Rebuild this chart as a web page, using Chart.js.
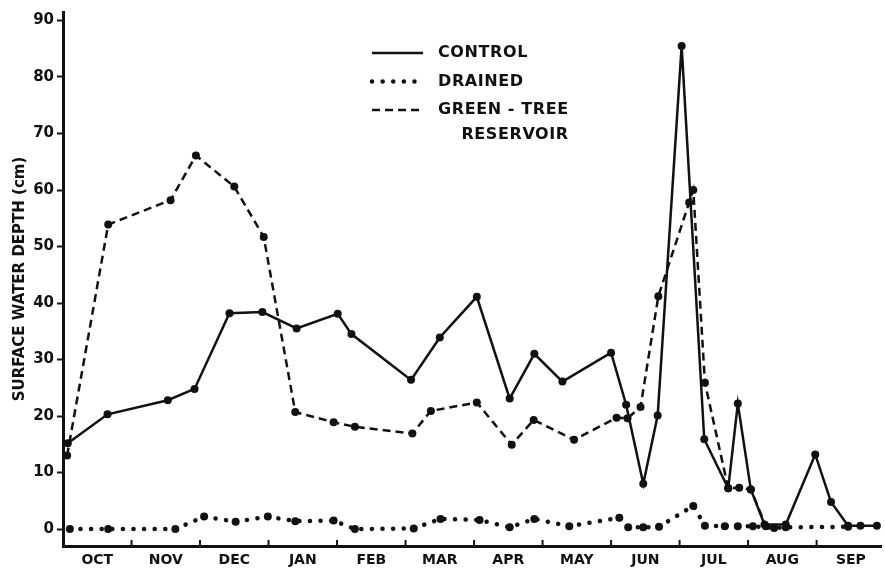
<!DOCTYPE html>
<html>
<head>
<meta charset="utf-8">
<title>Surface water depth</title>
<script src="https://cdn.jsdelivr.net/npm/chart.js@4.4.1/dist/chart.umd.min.js"></script>
<style>
  html, body { margin: 0; padding: 0; background: #fff; }
</style>
</head>
<body>
<canvas id="chartWater" width="885" height="569"></canvas>
<script>
// --- DATA (x = months since 1 October) ---
const MONTHS = ["OCT", "NOV", "DEC", "JAN", "FEB", "MAR", "APR", "MAY", "JUN", "JUL", "AUG", "SEP"];
const DEPTH_TICKS = [0, 10, 20, 30, 40, 50, 60, 70, 80, 90];

const controlX = [0.07, 0.65, 1.53, 1.92, 2.43, 2.91, 3.41, 4.01, 4.21, 5.08, 5.50, 6.04, 6.52, 6.88, 7.29, 8.00,
    8.22, 8.47, 8.68, 9.03, 9.36, 9.71, 9.85, 10.04, 10.24, 10.55, 10.98, 11.21, 11.46, 11.64, 11.88];
const controlDepth = [15.2, 20.3, 22.8, 24.8, 38.2, 38.4, 35.5, 38.1, 34.5, 26.4, 33.9, 41.1, 23.1, 31.0, 26.1, 31.2,
    22.0, 8.0, 20.1, 85.5, 15.9, 7.2, 22.2, 7.0, 0.8, 0.8, 13.2, 4.8, 0.6, 0.6, 0.6];

const drainedX = [0.10, 0.66, 1.64, 2.06, 2.52, 2.99, 3.39, 3.95, 4.26, 5.12, 5.51, 6.08, 6.52, 6.88, 7.39, 8.12,
    8.25, 8.47, 8.70, 9.20, 9.37, 9.66, 9.85, 10.07, 10.38, 10.55, 11.46];
const drainedDepth = [0, 0, 0, 2.2, 1.3, 2.2, 1.4, 1.5, 0, 0.1, 1.8, 1.6, 0.3, 1.8, 0.5, 2.0,
    0.3, 0.3, 0.4, 4.1, 0.6, 0.5, 0.5, 0.5, 0.2, 0.3, 0.4];

const reservoirX = [0.06, 0.66, 1.57, 1.94, 2.50, 2.93, 3.39, 3.95, 4.26, 5.10, 5.37, 6.04, 6.55, 6.87, 7.46, 8.08,
    8.24, 8.43, 8.69, 9.14, 9.20, 9.37, 9.71, 9.87, 10.04, 10.26];
const reservoirDepth = [13.0, 53.9, 58.2, 66.1, 60.6, 51.7, 20.7, 18.9, 18.1, 16.9, 20.9, 22.4, 14.9, 19.3, 15.8, 19.7,
    19.6, 21.6, 41.2, 57.8, 60.0, 25.9, 7.2, 7.3, 7.0, 0.5];

const INK = "#111";
const FONT = "'DejaVu Sans', 'Liberation Sans', sans-serif";

function toPoints(xs, ys) {
    return xs.map((x, i) => ({ x: x, y: ys[i] }));
}

// --- SMALL TICKS BETWEEN MONTHS (pointing up, like the original) ---
const monthTicks = {
    id: "monthTicks",
    afterDraw(chart) {
        const { ctx, chartArea } = chart;
        const xScale = chart.scales.x;
        ctx.save();
        ctx.strokeStyle = INK;
        ctx.lineWidth = 2;
        for (let i = 1; i < MONTHS.length; i++) {
            const px = xScale.getPixelForValue(i);
            ctx.beginPath();
            ctx.moveTo(px, chartArea.bottom);
            ctx.lineTo(px, chartArea.bottom - 6);
            ctx.stroke();
        }
        ctx.restore();
    }
};

// --- KEY (drawn from the dataset styles) ---
const seriesKey = {
    id: "seriesKey",
    afterDraw(chart, args, opts) {
        const ctx = chart.ctx;
        ctx.save();
        ctx.font = "bold 16px " + FONT;
        ctx.letterSpacing = "0.6px";
        ctx.textBaseline = "middle";
        ctx.fillStyle = INK;

        chart.data.datasets.forEach((ds, i) => {
            const y = opts.top + i * opts.rowGap;
            ctx.beginPath();
            ctx.setLineDash(ds.borderDash || []);
            ctx.lineCap = ds.borderCapStyle || "butt";
            ctx.lineWidth = ds.borderWidth;
            ctx.strokeStyle = ds.borderColor;
            ctx.moveTo(opts.left, y);
            ctx.lineTo(opts.left + opts.sample, y);
            ctx.stroke();

            const lines = ds.keyLines;
            const textX = opts.left + opts.sample + opts.gap;
            ctx.textAlign = "left";
            ctx.fillText(lines[0], textX, y);
            if (lines.length > 1) {
                // second line is right aligned under the first one
                const right = textX + ctx.measureText(lines[0]).width;
                ctx.textAlign = "right";
                ctx.fillText(lines[1], right, y + opts.lineGap);
            }
        });
        ctx.restore();
    }
};

const chart = new Chart(document.getElementById("chartWater"), {
    type: "line",
    data: {
        datasets: [{
            label: "CONTROL",
            keyLines: ["CONTROL"],
            data: toPoints(controlX, controlDepth),
            borderColor: INK,
            borderWidth: 2.5,
            pointRadius: 4,
            pointBackgroundColor: INK,
            pointBorderWidth: 0,
            tension: 0
        }, {
            label: "DRAINED",
            keyLines: ["DRAINED"],
            data: toPoints(drainedX, drainedDepth),
            borderColor: INK,
            borderWidth: 4.5,
            borderDash: [0.1, 10.5],
            borderCapStyle: "round",
            pointRadius: 4,
            pointBackgroundColor: INK,
            pointBorderWidth: 0,
            tension: 0
        }, {
            label: "GREEN - TREE RESERVOIR",
            keyLines: ["GREEN - TREE", "RESERVOIR"],
            data: toPoints(reservoirX, reservoirDepth),
            borderColor: INK,
            borderWidth: 2.5,
            borderDash: [8, 5],
            pointRadius: 4,
            pointBackgroundColor: INK,
            pointBorderWidth: 0,
            tension: 0
        }]
    },
    options: {
        responsive: false,
        animation: false,
        devicePixelRatio: 1,
        layout: { padding: { top: 4.5, right: 0, left: 0, bottom: 0 } },
        scales: {
            x: {
                type: "linear",
                min: 0,
                max: 11.94,
                afterBuildTicks: (scale) => {
                    scale.ticks = MONTHS.map((m, i) => ({ value: i + 0.5 }));
                },
                afterFit: (scale) => { scale.height = 23; },
                ticks: {
                    autoSkip: false,
                    maxRotation: 0,
                    padding: 6,
                    color: INK,
                    font: { family: FONT, size: 14, weight: "bold" },
                    callback: (v) => MONTHS[Math.floor(v)]
                },
                grid: { display: false, drawTicks: false },
                border: { color: INK, width: 3 }
            },
            y: {
                min: -3,
                max: 91.5,
                afterBuildTicks: (scale) => {
                    scale.ticks = DEPTH_TICKS.map(v => ({ value: v }));
                },
                afterFit: (scale) => { scale.width = 63; },
                ticks: {
                    padding: 3,
                    color: INK,
                    font: { family: FONT, size: 15, weight: "bold" }
                },
                grid: {
                    drawOnChartArea: false,
                    tickLength: 6,
                    tickWidth: 2,
                    tickColor: INK
                },
                border: { color: INK, width: 3 },
                title: {
                    display: true,
                    text: "SURFACE WATER DEPTH (cm)",
                    color: INK,
                    font: { family: FONT, size: 15, weight: "bold" },
                    padding: { top: 11, bottom: 0 }
                }
            }
        },
        plugins: {
            legend: { display: false },
            tooltip: { enabled: false },
            seriesKey: { left: 372, top: 53, rowGap: 28.5, lineGap: 25, sample: 51, gap: 15 }
        }
    },
    plugins: [monthTicks, seriesKey]
});
</script>
</body>
</html>
